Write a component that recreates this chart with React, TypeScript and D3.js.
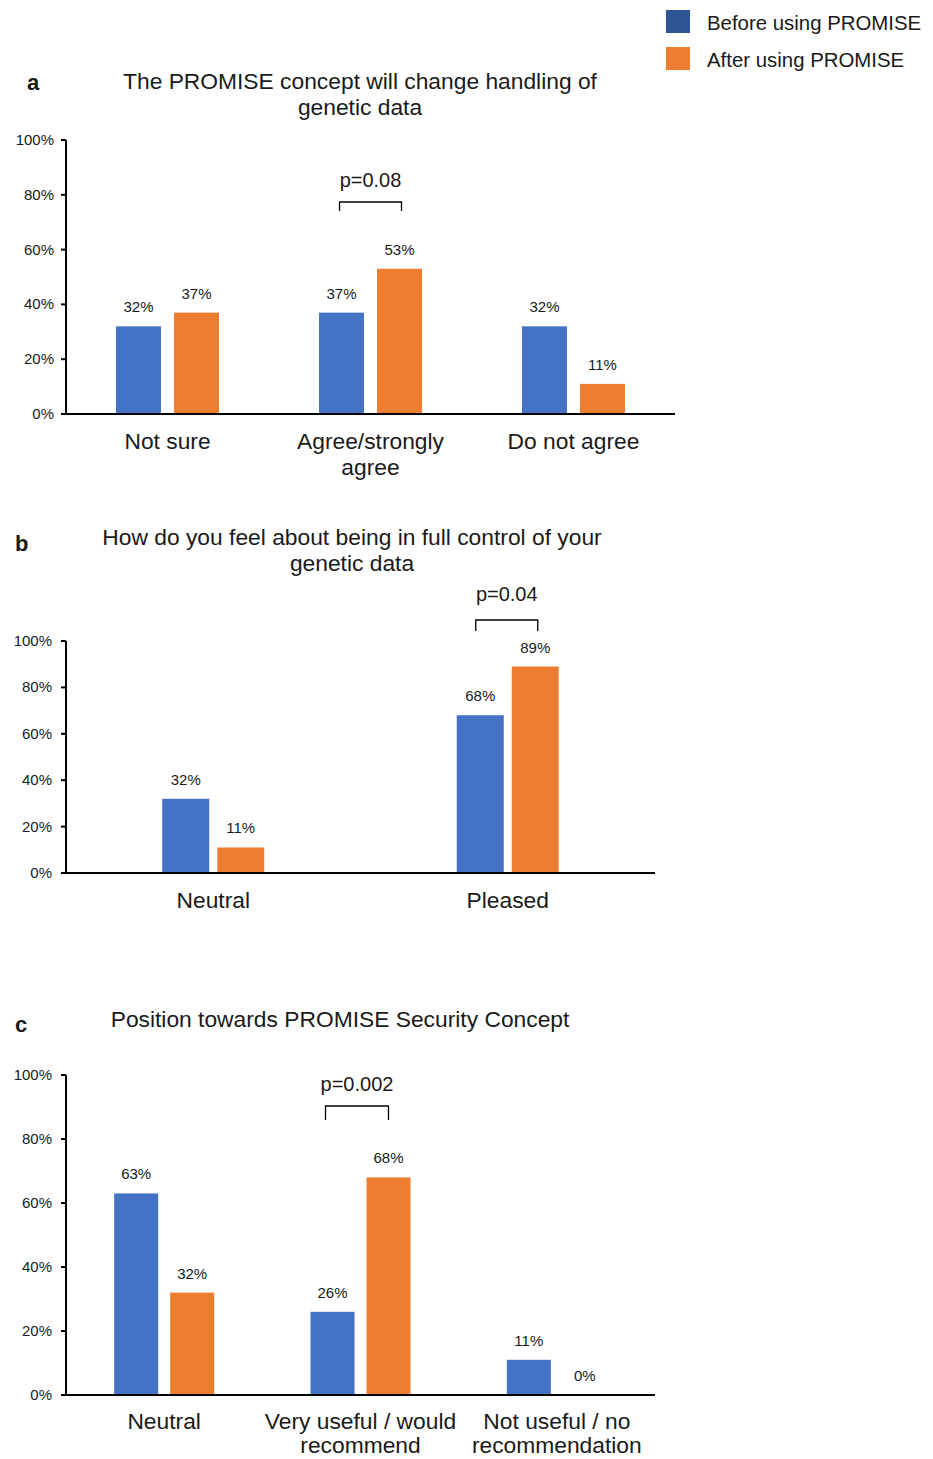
import React from 'react';
import * as d3 from 'd3';

// panel a
const catsA = ['Not sure', 'Agree/strongly\nagree', 'Do not agree'];
const beforeA = [32, 37, 32];
const afterA = [37, 53, 11];

// panel b
const catsB = ['Neutral', 'Pleased'];
const beforeB = [32, 68];
const afterB = [11, 89];

// panel c
const catsC = ['Neutral', 'Very useful / would\nrecommend', 'Not useful / no\nrecommendation'];
const beforeC = [63, 26, 11];
const afterC = [32, 68, 0];

const yTicks = [0, 20, 40, 60, 80, 100];
const seriesNames = ['Before using PROMISE', 'After using PROMISE'];

const BLUE = '#4472C4';
const ORANGE = '#ED7D31';
const LEGEND_BLUE = '#2F5597';
const TXT = '#1a1a1a';
const FONT = '"Liberation Sans", Arial, sans-serif';

type PanelProps = {
  letter: string;
  letterX: number;
  letterY: number;
  title: string[];
  titleX: number;
  titleY: number;
  cats: string[];
  before: number[];
  after: number[];
  top: number;
  bottom: number;
  right: number;
  barW: number;
  gap: number;
  tickX: number;
  labelOffset: number;
  labelGap: number;
  pText: string;
  pIndex: number;
  pSpan: [number, number];
  pTop: number;
  pBottom: number;
  pTextY: number;
};

function Panel(p: PanelProps) {
  const left = 66;
  const x = d3.scaleBand<string>().domain(p.cats).range([left, p.right]).padding(0);
  const y = d3.scaleLinear().domain([0, 100]).range([p.bottom, p.top]);
  const center = (c: string) => (x(c) as number) + x.bandwidth() / 2;
  const pc = center(p.cats[p.pIndex]);

  return (
    <g>
      <text x={p.letterX} y={p.letterY} fontSize={22} fontWeight="bold" fill={TXT}>
        {p.letter}
      </text>
      {p.title.map((t, i) => (
        <text key={i} x={p.titleX} y={p.titleY + i * 26} fontSize={22.8} textAnchor="middle" fill={TXT}>
          {t}
        </text>
      ))}
      {yTicks.map((t) => (
        <g key={t}>
          <line x1={left - 5} x2={left} y1={y(t)} y2={y(t)} stroke="#000" strokeWidth={2} />
          <text x={p.tickX} y={y(t) + 5} fontSize={15} textAnchor="end" fill={TXT}>
            {t}%
          </text>
        </g>
      ))}
      {p.cats.map((c, i) => {
        const cx = center(c);
        const bx = cx - p.gap / 2 - p.barW;
        const ox = cx + p.gap / 2;
        return (
          <g key={c}>
            <rect x={bx} y={y(p.before[i])} width={p.barW} height={p.bottom - y(p.before[i])} fill={BLUE} />
            <rect x={ox} y={y(p.after[i])} width={p.barW} height={p.bottom - y(p.after[i])} fill={ORANGE} />
            <text x={bx + p.barW / 2} y={y(p.before[i]) - 14} fontSize={15} textAnchor="middle" fill={TXT}>
              {p.before[i]}%
            </text>
            <text x={ox + p.barW / 2} y={y(p.after[i]) - 14} fontSize={15} textAnchor="middle" fill={TXT}>
              {p.after[i]}%
            </text>
            {c.split('\n').map((line, j) => (
              <text
                key={j}
                x={cx}
                y={p.bottom + p.labelOffset + j * p.labelGap}
                fontSize={22.8}
                textAnchor="middle"
                fill={TXT}
              >
                {line}
              </text>
            ))}
          </g>
        );
      })}
      <line x1={left} x2={left} y1={p.top} y2={p.bottom} stroke="#000" strokeWidth={2} />
      <line x1={left - 1} x2={p.right} y1={p.bottom} y2={p.bottom} stroke="#000" strokeWidth={2} />
      <path
        d={`M${pc + p.pSpan[0]},${p.pBottom}V${p.pTop}H${pc + p.pSpan[1]}V${p.pBottom}`}
        fill="none"
        stroke="#000"
        strokeWidth={1.3}
      />
      <text x={pc + (p.pSpan[0] + p.pSpan[1]) / 2} y={p.pTextY} fontSize={20} textAnchor="middle" fill={TXT}>
        {p.pText}
      </text>
    </g>
  );
}

export default function App() {
  return (
    <div style={{ position: 'absolute', left: 0, top: 0 }}>
      <svg width={933} height={1459} style={{ fontFamily: FONT, background: '#fff', display: 'block' }}>
        {/* legend */}
        {seriesNames.map((s, i) => (
          <g key={s}>
            <rect x={666} y={10 + i * 37} width={24} height={23} fill={i === 0 ? LEGEND_BLUE : ORANGE} />
            <text x={707} y={30 + i * 37} fontSize={20.4} fill={TXT}>
              {s}
            </text>
          </g>
        ))}
        <Panel
          letter="a"
          letterX={27}
          letterY={90}
          title={['The PROMISE concept will change handling of', 'genetic data']}
          titleX={360}
          titleY={89}
          cats={catsA}
          before={beforeA}
          after={afterA}
          top={140}
          bottom={414}
          right={675}
          barW={45}
          gap={13}
          tickX={54}
          labelOffset={35}
          labelGap={26}
          pText="p=0.08"
          pIndex={1}
          pSpan={[-31, 31]}
          pTop={202}
          pBottom={211}
          pTextY={187}
        />
        <Panel
          letter="b"
          letterX={15}
          letterY={551}
          title={['How do you feel about being in full control of your', 'genetic data']}
          titleX={352}
          titleY={545}
          cats={catsB}
          before={beforeB}
          after={afterB}
          top={641}
          bottom={873}
          right={655}
          barW={47}
          gap={8}
          tickX={52}
          labelOffset={35}
          labelGap={26}
          pText="p=0.04"
          pIndex={1}
          pSpan={[-32, 30]}
          pTop={620}
          pBottom={631}
          pTextY={601}
        />
        <Panel
          letter="c"
          letterX={15}
          letterY={1032}
          title={['Position towards PROMISE Security Concept']}
          titleX={340}
          titleY={1027}
          cats={catsC}
          before={beforeC}
          after={afterC}
          top={1075}
          bottom={1395}
          right={655}
          barW={44}
          gap={12}
          tickX={52}
          labelOffset={34}
          labelGap={24}
          pText="p=0.002"
          pIndex={1}
          pSpan={[-35, 28]}
          pTop={1106}
          pBottom={1120}
          pTextY={1091}
        />
      </svg>
    </div>
  );
}
